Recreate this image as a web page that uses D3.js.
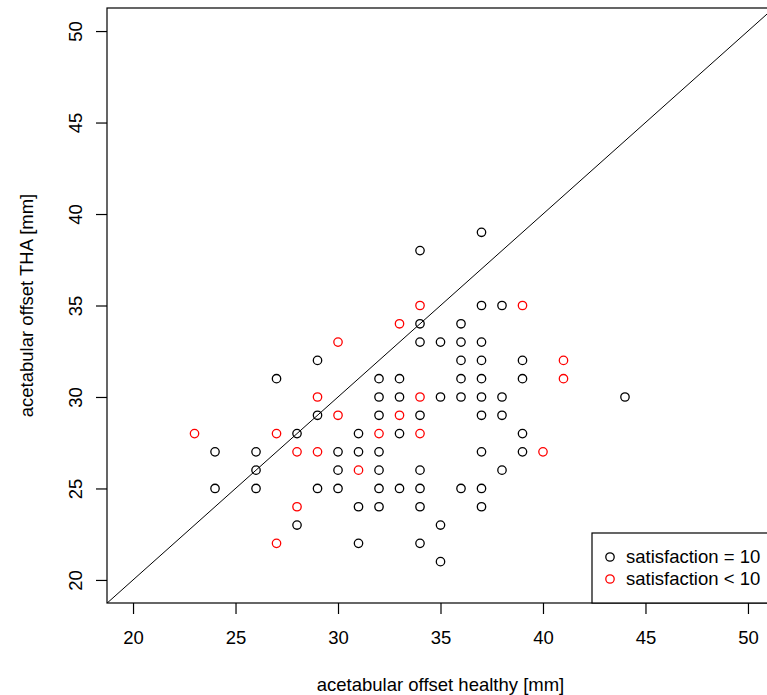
<!DOCTYPE html>
<html>
<head>
<meta charset="utf-8">
<script src="https://cdn.jsdelivr.net/npm/d3@7"></script>
<style>
  body { margin: 0; background: #fff; }
  text { font-family: "Liberation Sans", Arial, sans-serif; fill: #000; }
</style>
</head>
<body>
<div id="chart"></div>
<script>
// data: [healthy, THA] offsets in mm
const satisfied = [
  [24,27],[24,25],
  [26,27],[26,26],[26,25],
  [27,31],
  [28,28],[28,23],
  [29,32],[29,29],[29,25],
  [30,27],[30,26],[30,25],
  [31,28],[31,27],[31,24],[31,22],
  [32,31],[32,30],[32,29],[32,27],[32,26],[32,25],[32,24],
  [33,31],[33,30],[33,28],[33,25],
  [34,38],[34,34],[34,33],[34,29],[34,26],[34,25],[34,24],[34,22],
  [35,33],[35,30],[35,23],[35,21],
  [36,34],[36,33],[36,32],[36,31],[36,30],[36,25],
  [37,39],[37,35],[37,33],[37,32],[37,31],[37,30],[37,29],[37,27],[37,25],[37,24],
  [38,35],[38,30],[38,29],[38,26],
  [39,32],[39,31],[39,28],[39,27],
  [44,30]
];
const unsatisfied = [
  [23,28],
  [27,28],[27,22],
  [28,27],[28,24],
  [29,30],[29,27],
  [30,33],[30,29],
  [31,26],
  [32,28],
  [33,34],[33,29],
  [34,35],[34,30],[34,28],
  [39,35],
  [40,27],
  [41,32],[41,31]
];
const ticks = [20, 25, 30, 35, 40, 45, 50];
const legendLabels = ["satisfaction = 10", "satisfaction < 10"];
const legendColors = ["black", "red"];

const W = 767, H = 695;
const plot = {left: 107, top: 8, right: 774, bottom: 603};
const fs = 18.5;

const svg = d3.select("#chart").append("svg")
    .attr("width", W)
    .attr("height", H);

const x = d3.scaleLinear().domain([18.73, 51.27]).range([plot.left, plot.right]);
const y = d3.scaleLinear().domain([18.74, 51.26]).range([plot.bottom, plot.top]);

svg.append("defs").append("clipPath").attr("id", "clip")
  .append("rect")
    .attr("x", plot.left).attr("y", plot.top)
    .attr("width", plot.right - plot.left).attr("height", plot.bottom - plot.top);

// x axis
const xAxis = svg.append("g")
    .attr("transform", `translate(0,${plot.bottom})`)
    .call(d3.axisBottom(x).tickValues(ticks).tickSize(11).tickPadding(17));
xAxis.select(".domain").remove();
xAxis.selectAll("text").style("font-size", fs + "px").attr("fill", "#000");
xAxis.selectAll("line").attr("stroke", "#000").attr("stroke-width", 1.2);

// y axis, labels rotated like R's las=0
const yAxis = svg.append("g")
    .attr("transform", `translate(${plot.left},0)`)
    .call(d3.axisLeft(y).tickValues(ticks).tickSize(11));
yAxis.select(".domain").remove();
yAxis.selectAll("line").attr("stroke", "#000").attr("stroke-width", 1.2);
yAxis.selectAll("text")
    .attr("x", null).attr("dy", null)
    .attr("text-anchor", "middle")
    .attr("transform", "translate(-25,0) rotate(-90)")
    .attr("fill", "#000")
    .style("font-size", fs + "px");

// frame
svg.append("rect")
    .attr("x", plot.left).attr("y", plot.top)
    .attr("width", plot.right - plot.left).attr("height", plot.bottom - plot.top)
    .attr("fill", "none").attr("stroke", "#000").attr("stroke-width", 1.2);

// identity line
svg.append("line")
    .attr("clip-path", "url(#clip)")
    .attr("x1", x(15)).attr("y1", y(15))
    .attr("x2", x(55)).attr("y2", y(55))
    .attr("stroke", "#000").attr("stroke-width", 1);

// points
const groups = [satisfied, unsatisfied];
groups.forEach((pts, i) => {
  svg.append("g").selectAll("circle")
    .data(pts)
    .join("circle")
      .attr("cx", d => x(d[0]))
      .attr("cy", d => y(d[1]))
      .attr("r", 4.2)
      .attr("fill", "none")
      .attr("stroke", legendColors[i])
      .attr("stroke-width", 1.3);
});

// axis titles
svg.append("text")
    .attr("x", (plot.left + plot.right) / 2)
    .attr("y", 691)
    .attr("text-anchor", "middle")
    .style("font-size", fs + "px")
    .text("acetabular offset healthy [mm]");

svg.append("text")
    .attr("transform", `translate(33,${(plot.top + plot.bottom) / 2}) rotate(-90)`)
    .attr("text-anchor", "middle")
    .style("font-size", fs + "px")
    .text("acetabular offset THA [mm]");

// legend
const lg = svg.append("g");
lg.append("rect")
    .attr("x", 592).attr("y", 533)
    .attr("width", plot.right - 592).attr("height", plot.bottom - 533)
    .attr("fill", "#fff").attr("stroke", "#000").attr("stroke-width", 1.2);
legendLabels.forEach((lab, i) => {
  const cy = 557 + i * 22;
  lg.append("circle")
      .attr("cx", 610).attr("cy", cy).attr("r", 4.2)
      .attr("fill", "none").attr("stroke", legendColors[i]).attr("stroke-width", 1.3);
  lg.append("text")
      .attr("x", 626).attr("y", cy)
      .attr("dy", "0.35em")
      .style("font-size", fs + "px")
      .text(lab);
});
</script>
</body>
</html>
